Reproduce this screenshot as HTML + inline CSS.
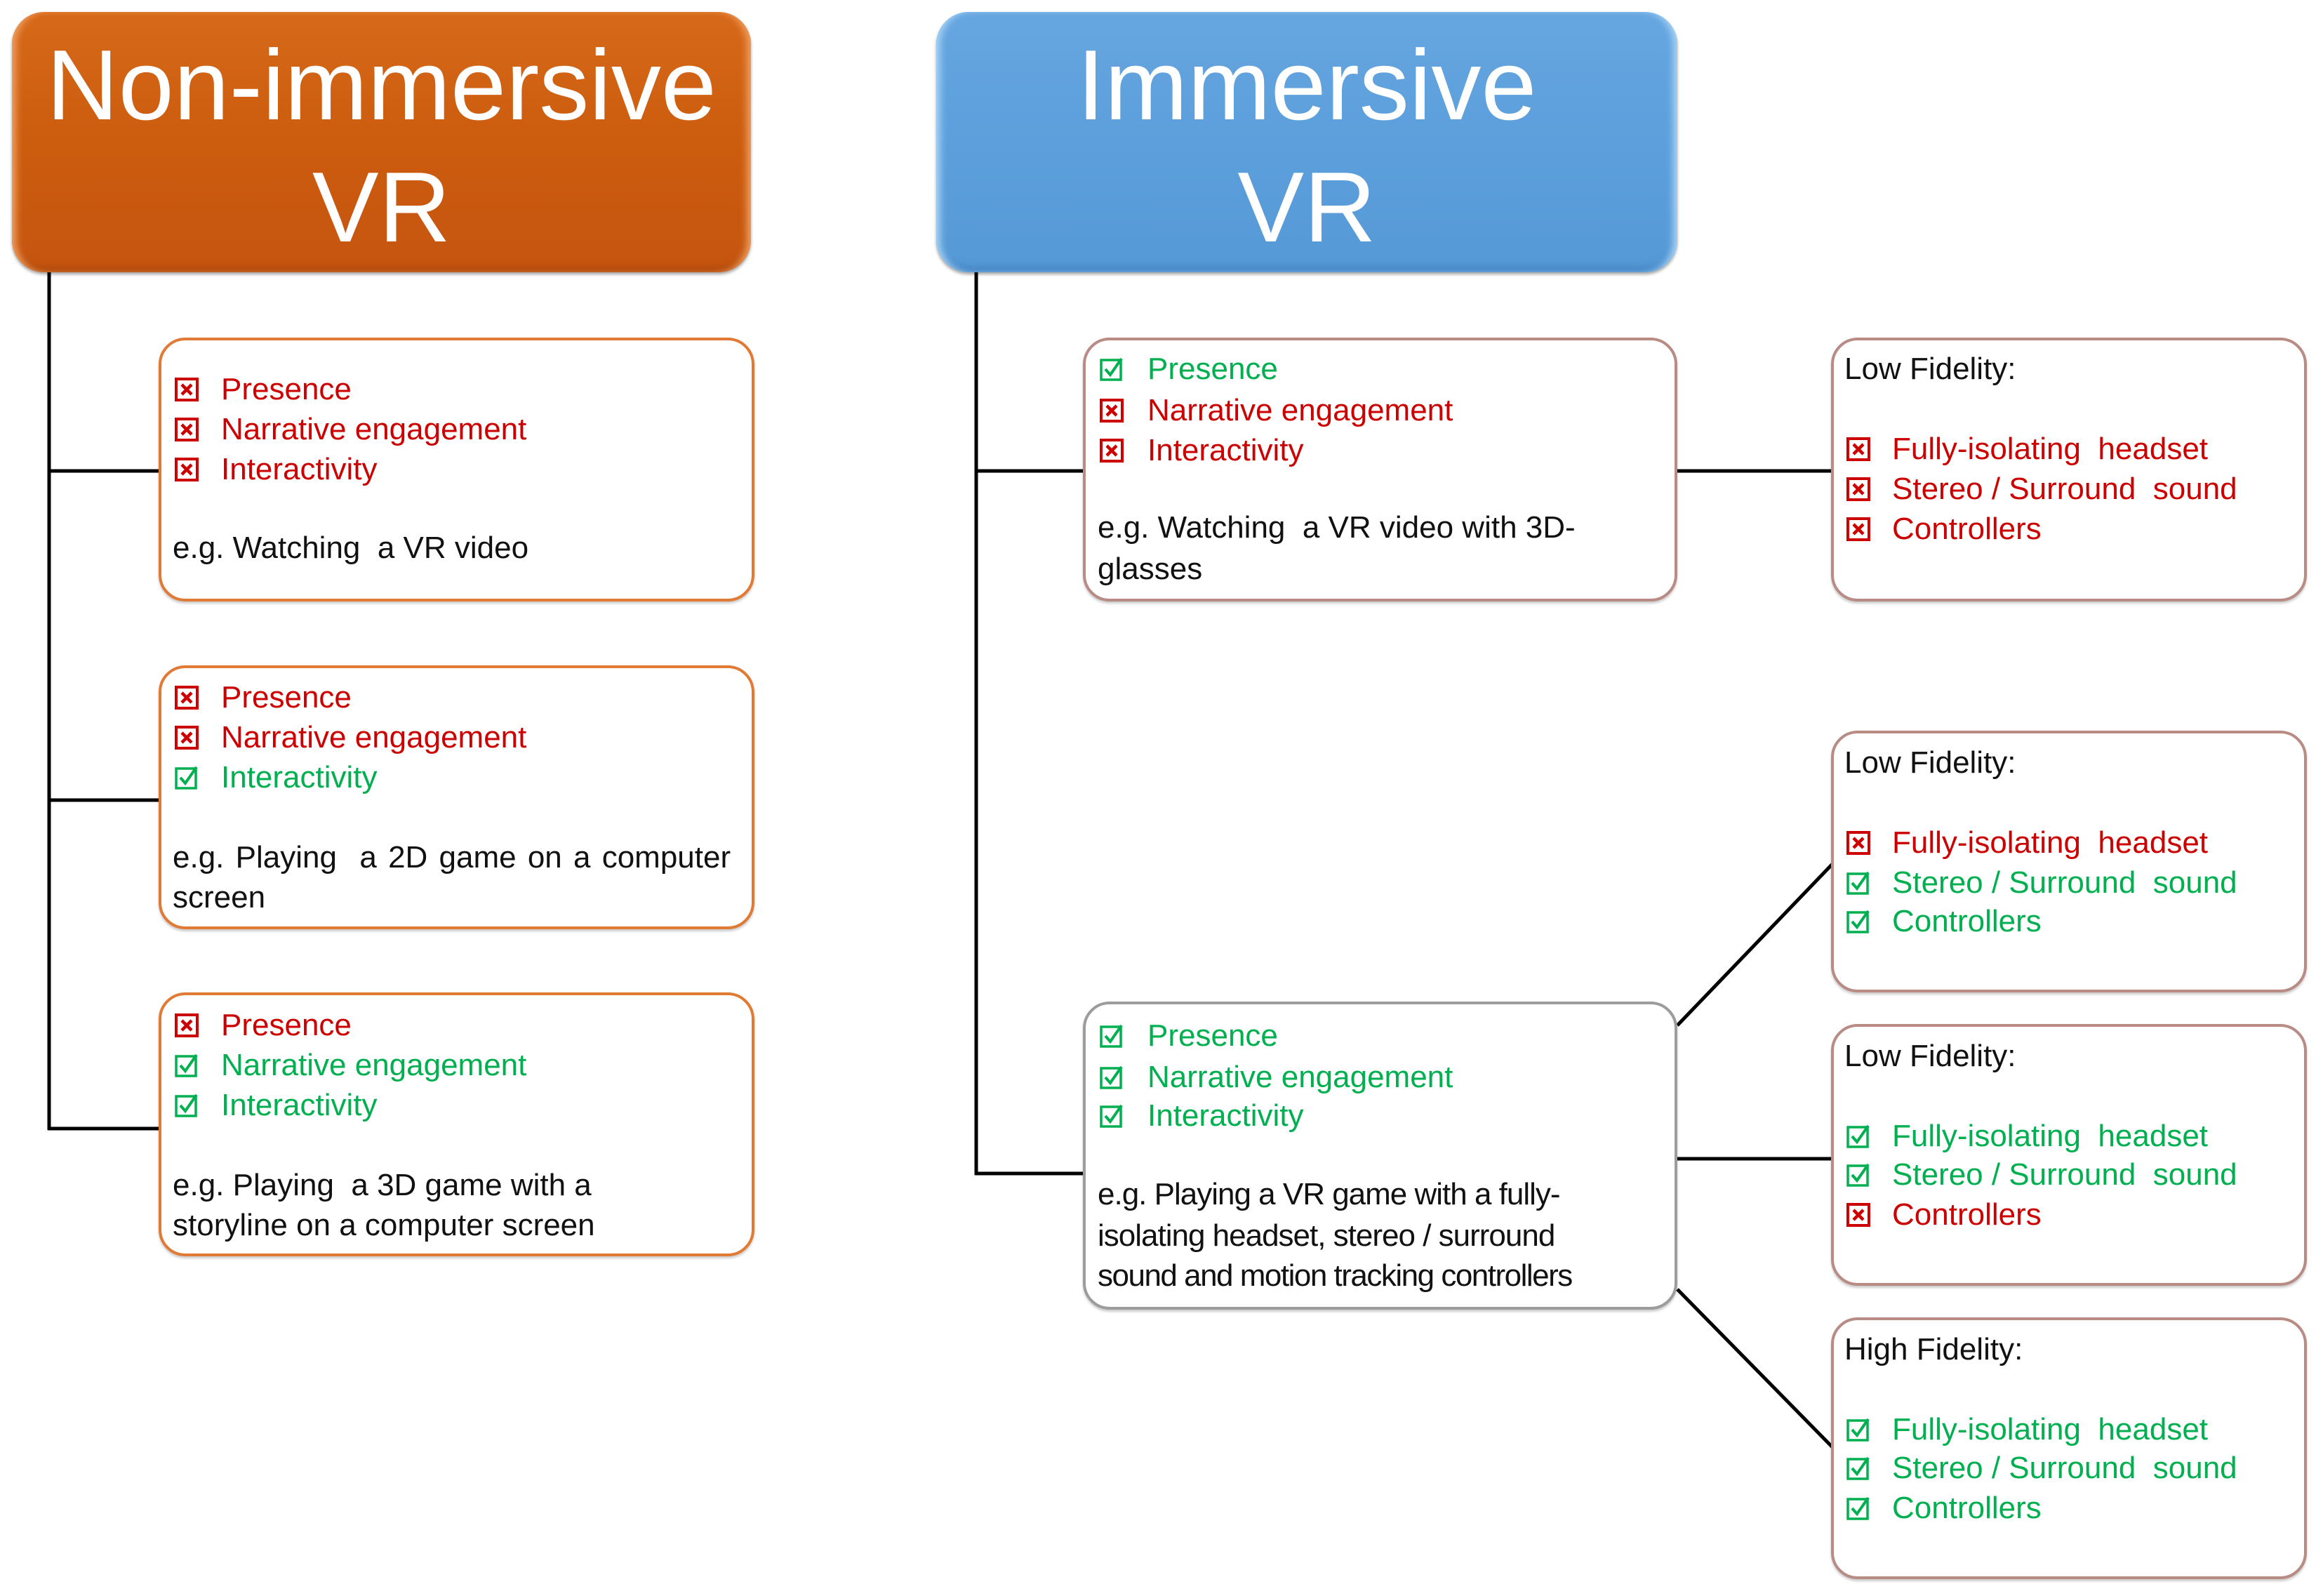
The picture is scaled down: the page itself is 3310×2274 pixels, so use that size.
<!DOCTYPE html>
<html><head><meta charset="utf-8"><style>
html,body{margin:0;padding:0;}
body{width:3310px;height:2274px;position:relative;background:#fff;overflow:hidden;font-family:"Liberation Sans",Arial,sans-serif;}
.hdr{position:absolute;border-radius:46px;color:#fff;font-size:142px;line-height:173px;text-align:center;box-sizing:border-box;}
.hdr div{position:absolute;left:0;right:0;}
.or{background:linear-gradient(#d6691a,#cc5c0e 50%,#c65510);box-shadow:inset 10px 0 10px -4px #f0a060,inset -10px 0 10px -4px #f0a060,inset 0 -10px 12px -4px #a8440a,0 3px 4px rgba(0,0,0,.35);}
.bl{background:linear-gradient(#66a6e0,#5c9fdc 50%,#5599d6);box-shadow:inset 10px 0 10px -4px #a8d4f6,inset -10px 0 10px -4px #a8d4f6,inset 0 -10px 12px -4px #3e7fbf,0 3px 4px rgba(0,0,0,.35);}
.box{position:absolute;background:#fff;border-radius:38px;box-sizing:border-box;border:4px solid #d9783a;box-shadow:0 3px 3px rgba(0,0,0,.2);}
.ob{border-color:#e07a35;}
.rb{border-color:#b98b85;}
.gb{border-color:#9c9c9c;}
.t{position:absolute;font-size:44px;line-height:44px;white-space:nowrap;}
.r{color:#cc0000;}.g{color:#00b050;}.k{color:#111;}
svg.cb{position:absolute;}
</style></head><body>

<svg width="3310" height="2274" style="position:absolute;left:0;top:0">
<g stroke="#000" stroke-width="5" fill="none">
<line x1="70" y1="388" x2="70" y2="1610"/>
<line x1="68" y1="671" x2="228" y2="671"/>
<line x1="68" y1="1140" x2="228" y2="1140"/>
<line x1="68" y1="1608" x2="228" y2="1608"/>
<line x1="1391" y1="388" x2="1391" y2="1674"/>
<line x1="1389" y1="671" x2="1545" y2="671"/>
<line x1="1389" y1="1672" x2="1545" y2="1672"/>
<line x1="2390" y1="671" x2="2611" y2="671"/>
<line x1="2390" y1="1461" x2="2611" y2="1231"/>
<line x1="2390" y1="1651" x2="2611" y2="1651"/>
<line x1="2390" y1="1837" x2="2611" y2="2062"/>
</g>
</svg>

<div class="hdr or" style="left:17px;top:17px;width:1053px;height:371px;">
<div style="top:18px">Non-immersive</div><div style="top:192px">VR</div></div>
<div class="hdr bl" style="left:1334px;top:17px;width:1056px;height:371px;">
<div style="top:18px">Immersive</div><div style="top:192px">VR</div></div>

<div class="box ob" style="left:226px;top:481px;width:849px;height:376px"></div>
<div class="box ob" style="left:226px;top:948px;width:849px;height:376px"></div>
<div class="box ob" style="left:226px;top:1414px;width:849px;height:376px"></div>
<div class="box rb" style="left:1543px;top:481px;width:847px;height:376px"></div>
<div class="box gb" style="left:1543px;top:1427px;width:847px;height:439px"></div>
<div class="box rb" style="left:2609px;top:481px;width:678px;height:376px"></div>
<div class="box rb" style="left:2609px;top:1041px;width:678px;height:373px"></div>
<div class="box rb" style="left:2609px;top:1459px;width:678px;height:373px"></div>
<div class="box rb" style="left:2609px;top:1877px;width:678px;height:373px"></div>

<svg width="0" height="0" style="position:absolute"><defs>
<symbol id="x" viewBox="0 0 34 34"><rect x="2" y="2" width="30" height="30" fill="none" stroke="#cc0000" stroke-width="4"/><path d="M10 10L24 24M24 10L10 24" stroke="#cc0000" stroke-width="4.5"/></symbol>
<symbol id="v" viewBox="0 0 34 34"><rect x="2" y="4" width="28" height="28" fill="none" stroke="#00b050" stroke-width="3.5"/><path d="M8 17L15 25L31 2" stroke="#00b050" stroke-width="4" fill="none"/></symbol>
</defs></svg>

<!-- Left box 1 -->
<svg class="cb" style="left:249px;top:538px" width="34" height="34"><use href="#x"/></svg>
<div class="t r" style="left:315px;top:533px">Presence</div>
<svg class="cb" style="left:249px;top:595px" width="34" height="34"><use href="#x"/></svg>
<div class="t r" style="left:315px;top:590px">Narrative engagement</div>
<svg class="cb" style="left:249px;top:652px" width="34" height="34"><use href="#x"/></svg>
<div class="t r" style="left:315px;top:647px">Interactivity</div>
<div class="t k" style="left:246px;top:759px">e.g. Watching&nbsp; a VR video</div>

<!-- Left box 2 -->
<svg class="cb" style="left:249px;top:977px" width="34" height="34"><use href="#x"/></svg>
<div class="t r" style="left:315px;top:972px">Presence</div>
<svg class="cb" style="left:249px;top:1034px" width="34" height="34"><use href="#x"/></svg>
<div class="t r" style="left:315px;top:1029px">Narrative engagement</div>
<svg class="cb" style="left:249px;top:1091px" width="34" height="34"><use href="#v"/></svg>
<div class="t g" style="left:315px;top:1086px">Interactivity</div>
<div class="t k" style="left:246px;top:1200px;word-spacing:4px">e.g. Playing&nbsp; a 2D game on a computer</div>
<div class="t k" style="left:246px;top:1257px">screen</div>

<!-- Left box 3 -->
<svg class="cb" style="left:249px;top:1444px" width="34" height="34"><use href="#x"/></svg>
<div class="t r" style="left:315px;top:1439px">Presence</div>
<svg class="cb" style="left:249px;top:1501px" width="34" height="34"><use href="#v"/></svg>
<div class="t g" style="left:315px;top:1496px">Narrative engagement</div>
<svg class="cb" style="left:249px;top:1558px" width="34" height="34"><use href="#v"/></svg>
<div class="t g" style="left:315px;top:1553px">Interactivity</div>
<div class="t k" style="left:246px;top:1667px">e.g. Playing&nbsp; a 3D game with a</div>
<div class="t k" style="left:246px;top:1724px">storyline on a computer screen</div>

<!-- Middle A -->
<svg class="cb" style="left:1567px;top:509px" width="34" height="34"><use href="#v"/></svg>
<div class="t g" style="left:1635px;top:504px">Presence</div>
<svg class="cb" style="left:1567px;top:568px" width="34" height="34"><use href="#x"/></svg>
<div class="t r" style="left:1635px;top:563px">Narrative engagement</div>
<svg class="cb" style="left:1567px;top:625px" width="34" height="34"><use href="#x"/></svg>
<div class="t r" style="left:1635px;top:620px">Interactivity</div>
<div class="t k" style="left:1564px;top:730px">e.g. Watching&nbsp; a VR video with 3D-</div>
<div class="t k" style="left:1564px;top:789px">glasses</div>

<!-- Middle B -->
<svg class="cb" style="left:1567px;top:1459px" width="34" height="34"><use href="#v"/></svg>
<div class="t g" style="left:1635px;top:1454px">Presence</div>
<svg class="cb" style="left:1567px;top:1518px" width="34" height="34"><use href="#v"/></svg>
<div class="t g" style="left:1635px;top:1513px">Narrative engagement</div>
<svg class="cb" style="left:1567px;top:1573px" width="34" height="34"><use href="#v"/></svg>
<div class="t g" style="left:1635px;top:1568px">Interactivity</div>
<div class="t k" style="left:1564px;top:1680px;letter-spacing:-1px">e.g. Playing a VR game with a fully-</div>
<div class="t k" style="left:1564px;top:1739px;letter-spacing:-1px">isolating headset, stereo / surround</div>
<div class="t k" style="left:1564px;top:1796px;letter-spacing:-1.5px">sound and motion tracking controllers</div>

<!-- Right 1 -->
<div class="t k" style="left:2628px;top:504px">Low Fidelity:</div>
<svg class="cb" style="left:2631px;top:623px" width="34" height="34"><use href="#x"/></svg>
<div class="t r" style="left:2696px;top:618px">Fully-isolating&nbsp; headset</div>
<svg class="cb" style="left:2631px;top:680px" width="34" height="34"><use href="#x"/></svg>
<div class="t r" style="left:2696px;top:675px">Stereo / Surround&nbsp; sound</div>
<svg class="cb" style="left:2631px;top:737px" width="34" height="34"><use href="#x"/></svg>
<div class="t r" style="left:2696px;top:732px">Controllers</div>

<!-- Right 2 -->
<div class="t k" style="left:2628px;top:1065px">Low Fidelity:</div>
<svg class="cb" style="left:2631px;top:1184px" width="34" height="34"><use href="#x"/></svg>
<div class="t r" style="left:2696px;top:1179px">Fully-isolating&nbsp; headset</div>
<svg class="cb" style="left:2631px;top:1241px" width="34" height="34"><use href="#v"/></svg>
<div class="t g" style="left:2696px;top:1236px">Stereo / Surround&nbsp; sound</div>
<svg class="cb" style="left:2631px;top:1296px" width="34" height="34"><use href="#v"/></svg>
<div class="t g" style="left:2696px;top:1291px">Controllers</div>

<!-- Right 3 -->
<div class="t k" style="left:2628px;top:1483px">Low Fidelity:</div>
<svg class="cb" style="left:2631px;top:1602px" width="34" height="34"><use href="#v"/></svg>
<div class="t g" style="left:2696px;top:1597px">Fully-isolating&nbsp; headset</div>
<svg class="cb" style="left:2631px;top:1657px" width="34" height="34"><use href="#v"/></svg>
<div class="t g" style="left:2696px;top:1652px">Stereo / Surround&nbsp; sound</div>
<svg class="cb" style="left:2631px;top:1714px" width="34" height="34"><use href="#x"/></svg>
<div class="t r" style="left:2696px;top:1709px">Controllers</div>

<!-- Right 4 -->
<div class="t k" style="left:2628px;top:1901px">High Fidelity:</div>
<svg class="cb" style="left:2631px;top:2020px" width="34" height="34"><use href="#v"/></svg>
<div class="t g" style="left:2696px;top:2015px">Fully-isolating&nbsp; headset</div>
<svg class="cb" style="left:2631px;top:2075px" width="34" height="34"><use href="#v"/></svg>
<div class="t g" style="left:2696px;top:2070px">Stereo / Surround&nbsp; sound</div>
<svg class="cb" style="left:2631px;top:2132px" width="34" height="34"><use href="#v"/></svg>
<div class="t g" style="left:2696px;top:2127px">Controllers</div>

</body></html>
